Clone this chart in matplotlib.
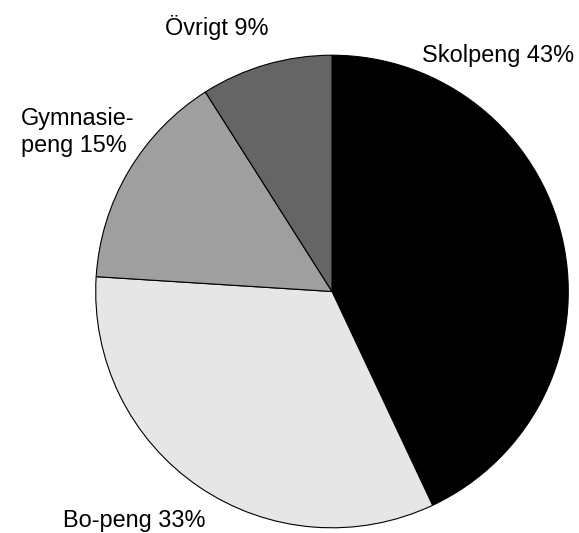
import matplotlib
matplotlib.use("Agg")
import matplotlib.pyplot as plt

# Budget shares (percent), drawn clockwise from 12 o'clock
labels = ["Skolpeng", "Bo-peng", "Gymnasie-\npeng", "Övrigt"]
shares = [43, 33, 15, 9]
colors = ["#000000", "#e6e6e6", "#9f9f9f", "#656565"]

plt.rcParams['font.family'] = ['Liberation Sans', 'DejaVu Sans']

W, H = 579, 533
fig = plt.figure(figsize=(W / 100, H / 100), dpi=100)

# pie occupies a square area: centre ~(332, 291.5) px, radius ~237 px
ax = fig.add_axes([95 / W, 4.5 / H, 474 / W, 474 / H])
ax.pie(shares, colors=colors, startangle=90, counterclock=False,
       wedgeprops=dict(edgecolor='black', linewidth=0.8))
ax.set_xlim(-1.003, 1.003)
ax.set_ylim(-1.003, 1.003)
ax.set_aspect('equal')
ax.axis('off')

# label anchor points: (left x, baseline y) in pixels
label_pos = [(422, 61.7), (63, 526.7), (20.7, 152), (165, 35)]
for name, val, (x, y) in zip(labels, shares, label_pos):
    fig.text(x / W, 1 - y / H, f"{name} {val}%", ha='left', va='baseline',
             fontsize=16.9, linespacing=1.22)

fig.savefig("out.png", dpi=100)
